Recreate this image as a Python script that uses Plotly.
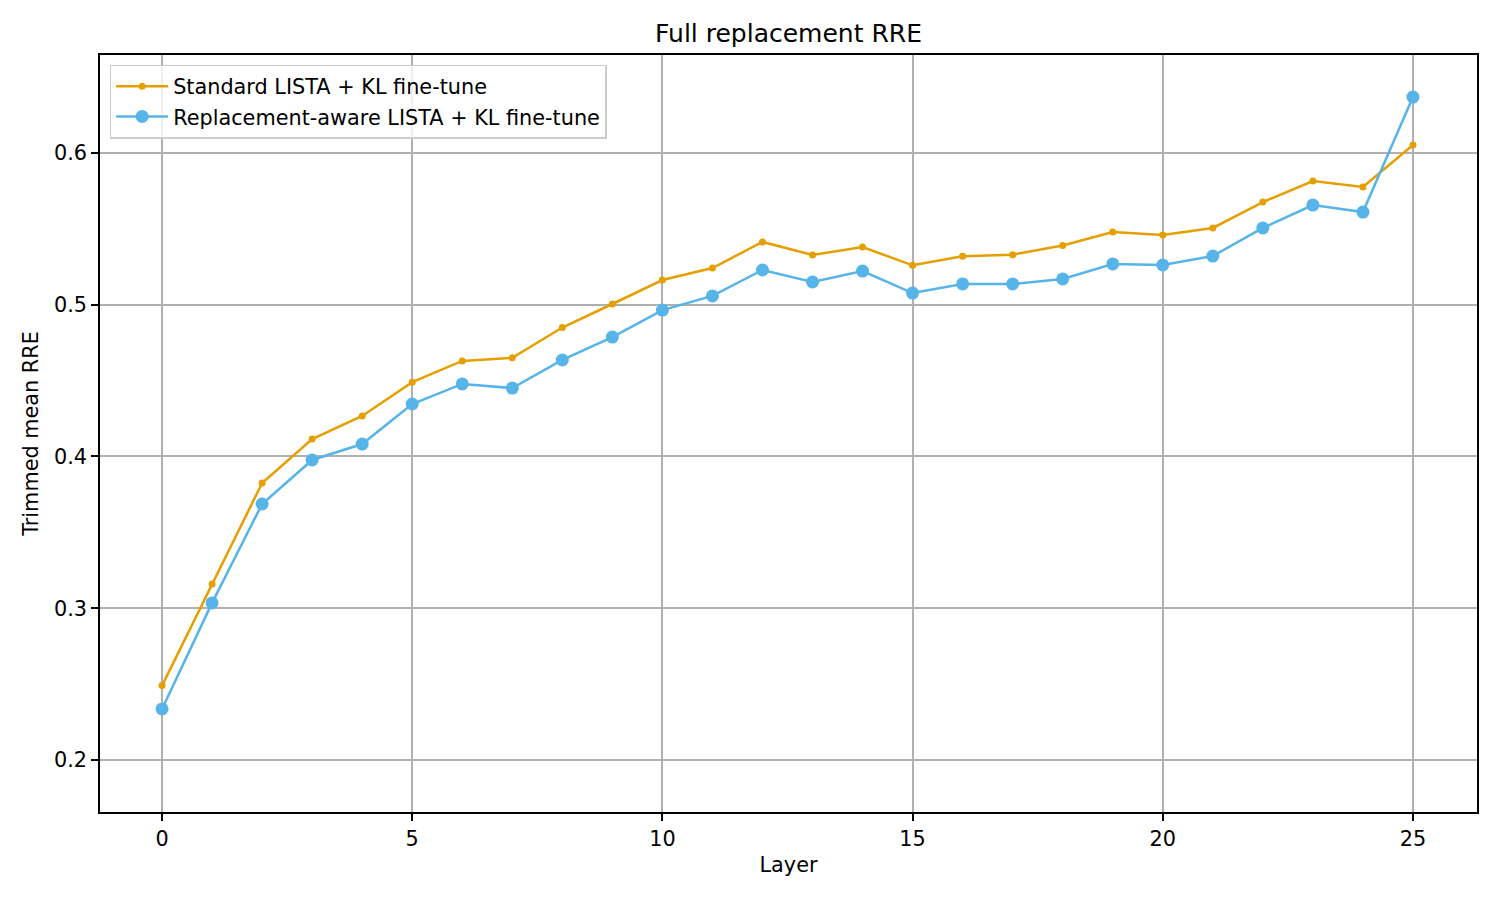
import plotly.graph_objects as go

layers = list(range(26))
standard_kl = [0.249, 0.316, 0.3825, 0.4115, 0.4267, 0.449, 0.463, 0.465, 0.485, 0.5005,
               0.5163, 0.5242, 0.5414, 0.5328, 0.538, 0.526, 0.532, 0.533, 0.539, 0.548,
               0.546, 0.5506, 0.5677, 0.5815, 0.5776, 0.6053]
replacement_kl = [0.2336, 0.3035, 0.3687, 0.3977, 0.4082, 0.4346, 0.4478, 0.4451, 0.4636, 0.4787,
                  0.4965, 0.5058, 0.5229, 0.515, 0.5222, 0.5077, 0.5137, 0.5137, 0.517, 0.5269,
                  0.5262, 0.5321, 0.5506, 0.5657, 0.5611, 0.6369]

fig = go.Figure()
fig.add_trace(go.Scatter(x=layers, y=standard_kl, mode='lines+markers',
                         name='Standard LISTA + KL fine-tune',
                         line=dict(color='#E69F00', width=2.5),
                         marker=dict(size=7, color='#E69F00')))
fig.add_trace(go.Scatter(x=layers, y=replacement_kl, mode='lines+markers',
                         name='Replacement-aware LISTA + KL fine-tune',
                         line=dict(color='#56B4E9', width=2.5),
                         marker=dict(size=13, color='#56B4E9')))

axis_style = dict(showline=True, linecolor='black', linewidth=1.5, mirror=True,
                  ticks='outside', ticklen=7, tickwidth=1.5, tickcolor='black',
                  showgrid=True, gridcolor='#b0b0b0', gridwidth=1.5, zeroline=False,
                  tickfont=dict(size=20.8, color='black'))

fig.update_xaxes(title=dict(text='Layer', font=dict(size=20.8, color='black'), standoff=8),
                 range=[-1.24, 26.28], tickvals=[0, 5, 10, 15, 20, 25], **axis_style)
fig.update_yaxes(title=dict(text='Trimmed mean RRE', font=dict(size=20.8, color='black'), standoff=10),
                 range=[0.1657, 0.6646], tickvals=[0.2, 0.3, 0.4, 0.5, 0.6],
                 tickformat='.1f', **axis_style)

# page body adds an 8px margin, so the figure is a bit smaller than the window
fig.update_layout(width=1484, height=884,
                  margin=dict(l=92, r=15, t=47, b=80),
                  paper_bgcolor='white', plot_bgcolor='white',
                  font=dict(family='DejaVu Sans', color='black'),
                  title=dict(text='Full replacement RRE', xref='paper', x=0.5, xanchor='center',
                             yref='container', y=0.972, yanchor='middle',
                             font=dict(size=25, color='black')),
                  legend=dict(x=0.007, y=0.987, xanchor='left', yanchor='top',
                              bgcolor='rgba(255,255,255,0.8)', bordercolor='#cccccc',
                              borderwidth=1.5, itemwidth=52, tracegroupgap=4,
                              font=dict(size=20.8, color='black')),
                  showlegend=True)

fig.write_html('out.html')
